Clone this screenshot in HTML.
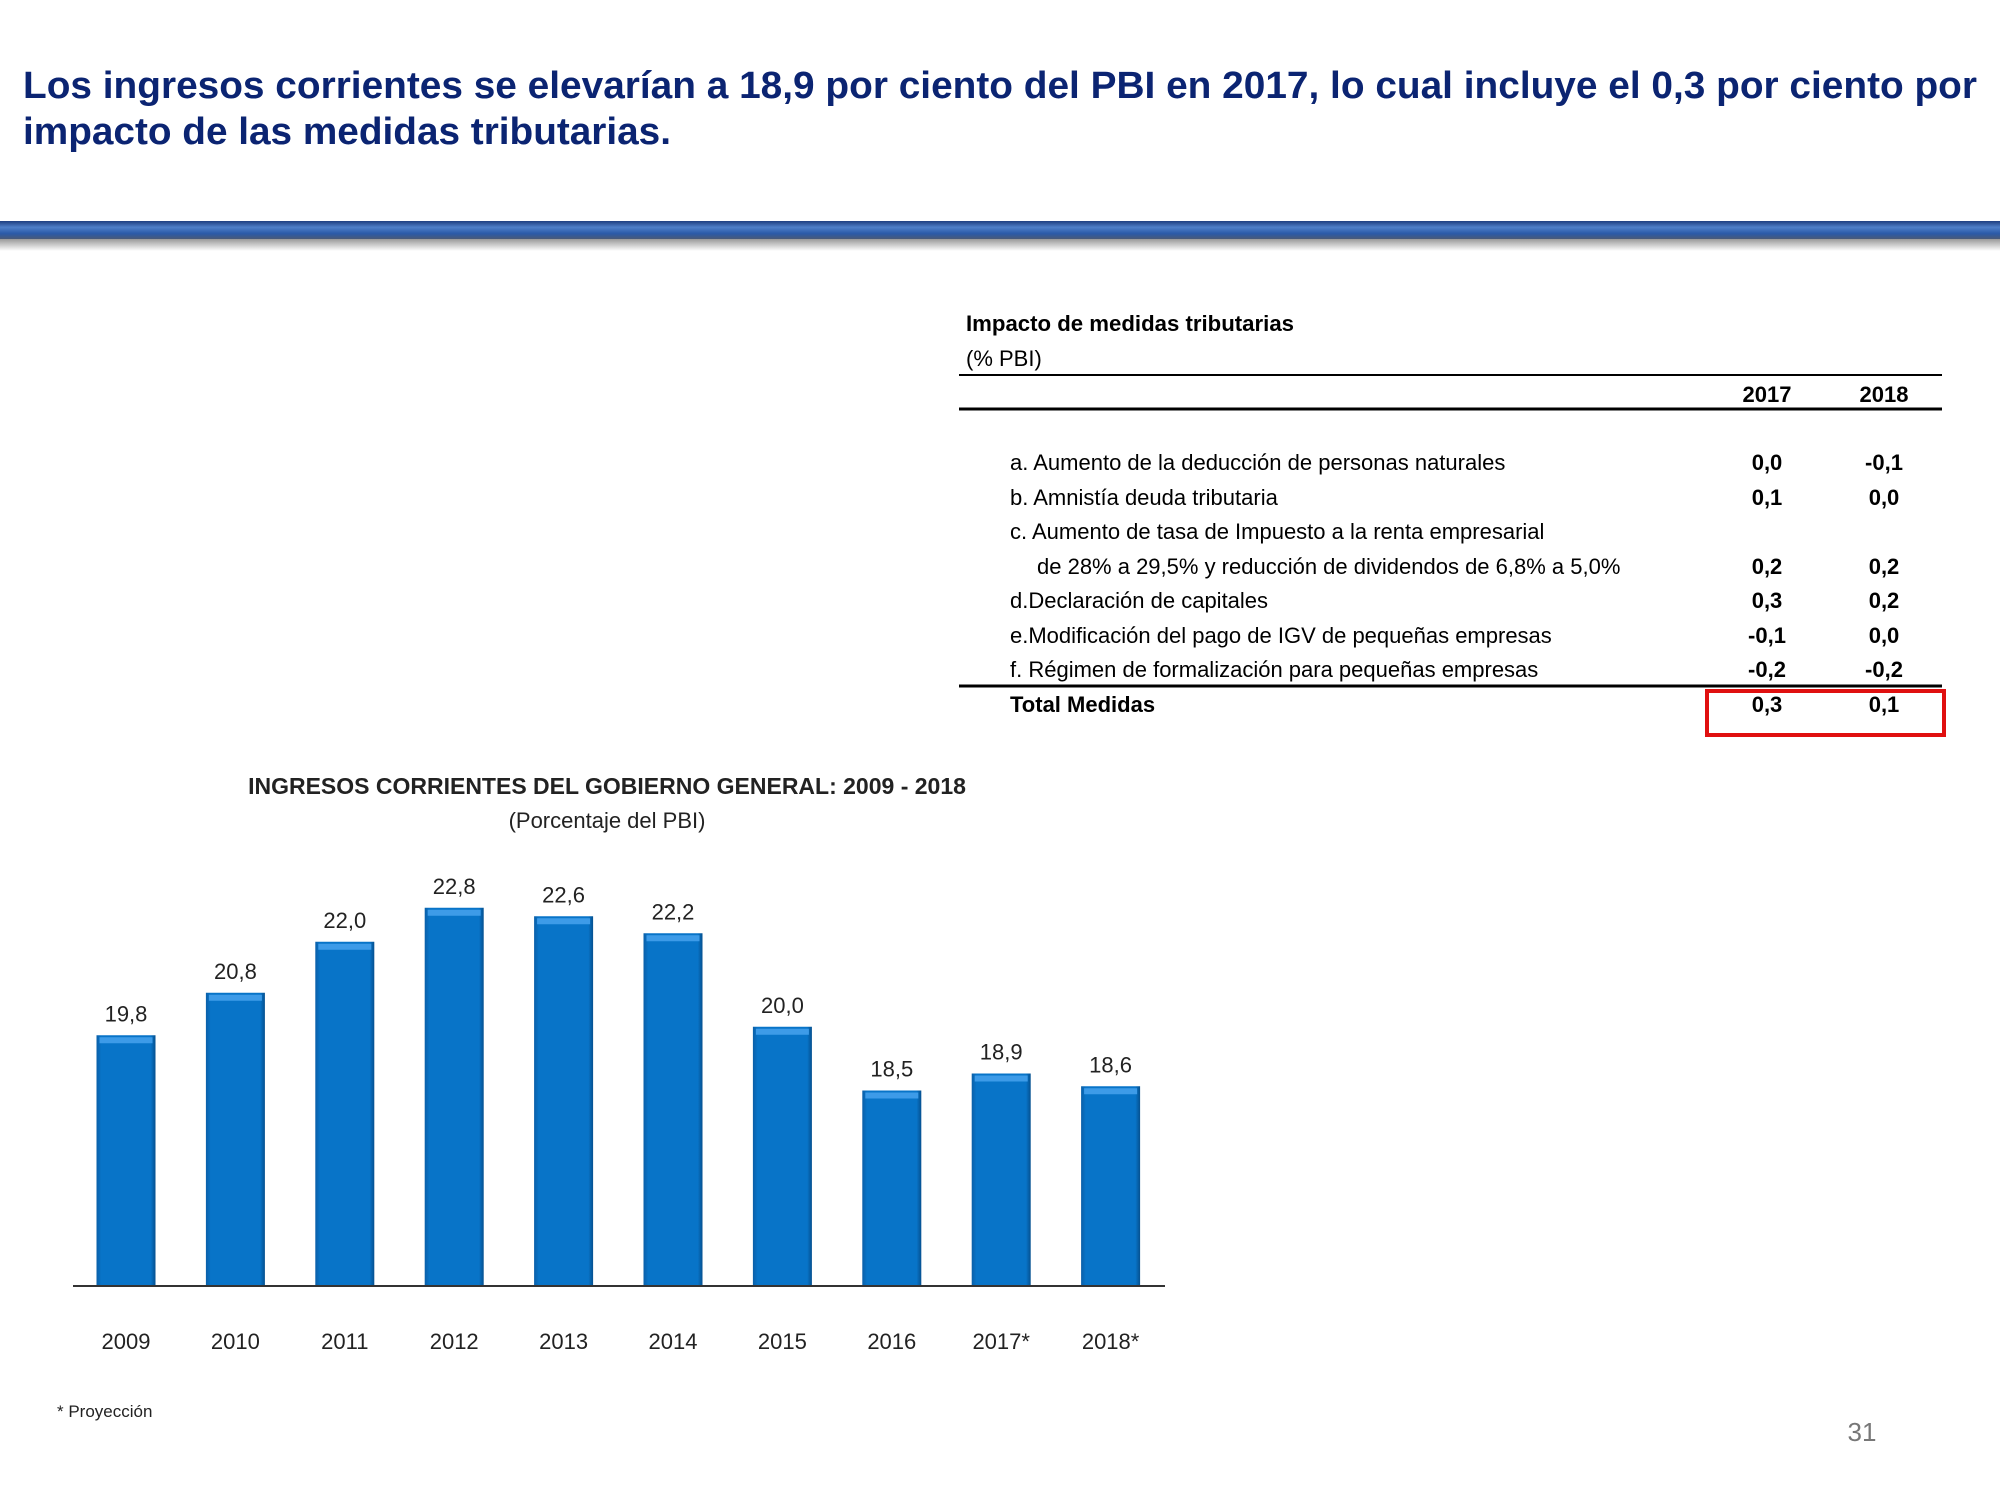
<!DOCTYPE html>
<html><head><meta charset="utf-8"><style>
html,body{margin:0;padding:0;background:#fff;}
svg{display:block;font-family:"Liberation Sans",sans-serif;}
</style></head><body>
<svg width="2000" height="1500" viewBox="0 0 2000 1500">
<defs>
<linearGradient id="band" x1="0" y1="0" x2="0" y2="1">
<stop offset="0" stop-color="#1f3f80"/><stop offset="0.35" stop-color="#4f7fc8"/><stop offset="0.7" stop-color="#2a5aa8"/><stop offset="1" stop-color="#4a5a78"/></linearGradient>
<linearGradient id="shadow" x1="0" y1="0" x2="0" y2="1">
<stop offset="0" stop-color="#999"/><stop offset="1" stop-color="#fff"/></linearGradient>
<linearGradient id="bar" x1="0" y1="0" x2="1" y2="0">
<stop offset="0" stop-color="#0a5fa8"/><stop offset="0.08" stop-color="#0874c8"/><stop offset="0.92" stop-color="#0874c8"/><stop offset="1" stop-color="#05508f"/></linearGradient>
</defs>
<g fill="#0b2472" font-weight="bold" font-size="38">
<text x="23" y="98" textLength="1954" lengthAdjust="spacingAndGlyphs">Los ingresos corrientes se elevarían a 18,9 por ciento del PBI en 2017, lo cual incluye el 0,3 por ciento por</text>
<text x="23" y="144" textLength="648" lengthAdjust="spacingAndGlyphs">impacto de las medidas tributarias.</text>
</g>
<rect x="0" y="221" width="2000" height="18" fill="url(#band)"/>
<rect x="0" y="239" width="2000" height="12" fill="url(#shadow)"/>

<g font-size="22" fill="#000">
<text x="966" y="331" font-weight="bold" textLength="328" lengthAdjust="spacingAndGlyphs">Impacto de medidas tributarias</text>
<text x="966" y="366">(% PBI)</text>
<line x1="959" y1="375" x2="1942" y2="375" stroke="#000" stroke-width="2"/>
<text x="1767" y="402" text-anchor="middle" font-weight="bold">2017</text>
<text x="1884" y="402" text-anchor="middle" font-weight="bold">2018</text>
<line x1="959" y1="409" x2="1942" y2="409" stroke="#000" stroke-width="3"/>
<g id="rows"></g>
<line x1="959" y1="686" x2="1942" y2="686" stroke="#000" stroke-width="3"/>
<rect x="1707" y="691" width="237" height="44" fill="none" stroke="#e01010" stroke-width="4"/>
</g>

<g text-anchor="middle">
<text x="607" y="794" font-size="23" font-weight="bold" fill="#222">INGRESOS CORRIENTES DEL GOBIERNO GENERAL: 2009 - 2018</text>
<text x="607" y="828" font-size="22" fill="#222">(Porcentaje del PBI)</text>
</g>
<g id="chart"></g>
<text x="57" y="1417" font-size="17" fill="#222">* Proyección</text>
<text x="1862" y="1441" font-size="26" fill="#777" text-anchor="middle">31</text>
</svg>
<script>
const categories = ["2009","2010","2011","2012","2013","2014","2015","2016","2017*","2018*"];
const values = [19.8,20.8,22.0,22.8,22.6,22.2,20.0,18.5,18.9,18.6];
const valueLabels = ["19,8","20,8","22,0","22,8","22,6","22,2","20,0","18,5","18,9","18,6"];
const rowLabels = ["a. Aumento de la deducción de personas naturales","b. Amnistía  deuda tributaria","c. Aumento de tasa de Impuesto a la renta empresarial","    de 28% a 29,5% y reducción de dividendos de 6,8% a 5,0%","d.Declaración de capitales","e.Modificación del pago de IGV de pequeñas empresas","f. Régimen de formalización para pequeñas empresas","Total Medidas"];
const col2017 = ["0,0","0,1","","0,2","0,3","-0,1","-0,2","0,3"];
const col2018 = ["-0,1","0,0","","0,2","0,2","0,0","-0,2","0,1"];

const NS="http://www.w3.org/2000/svg";
function mk(tag,attrs,parent){const e=document.createElementNS(NS,tag);for(const k in attrs)e.setAttribute(k,attrs[k]);parent.appendChild(e);return e;}

// table
const rows=document.getElementById('rows');
const rowY=[470,505,539,574,608,643,677,712];
rowLabels.forEach((t,i)=>{
  const last=i===rowLabels.length-1;
  const lbl=mk('text',{x: t.startsWith('    ')?1037:1010, y:rowY[i], 'font-weight': last?'bold':'normal'},rows);
  
  
  lbl.textContent=t.trim();
  const a=mk('text',{x:1767,y:rowY[i],'text-anchor':'middle','font-weight':'bold'},rows);
  
  
  a.textContent=col2017[i];
  const b=mk('text',{x:1884,y:rowY[i],'text-anchor':'middle','font-weight':'bold'},rows);
  
  
  b.textContent=col2018[i];
});

// chart
const chart=document.getElementById('chart');
const baseY=1286, yMin=13.9, pxPerUnit=42.5;
const yScale=v=>baseY-(v-yMin)*pxPerUnit;
const x0=126, step=109.4, bw=59;
const xScale=i=>x0+i*step;
values.forEach((v,i)=>{
  const cx=xScale(i), top=yScale(v);
  const r=mk('rect',{x:cx-bw/2,y:top,width:bw,height:baseY-top,fill:'url(#bar)'},chart);
  
  
  const hl=mk('rect',{x:cx-bw/2+3,y:top+2,width:bw-6,height:6,fill:'#3d9be8'},chart);
  
  
  const t=mk('text',{x:cx,y:top-14,'text-anchor':'middle','font-size':22,fill:'#222'},chart);
  
  
  t.textContent=valueLabels[i];
  const c=mk('text',{x:cx,y:1349,'text-anchor':'middle','font-size':22,fill:'#222'},chart);
  
  
  c.textContent=categories[i];
});
const ax=mk('line',{x1:73,y1:baseY,x2:1165,y2:baseY,stroke:'#333','stroke-width':2},chart);


</script>
</body></html>
